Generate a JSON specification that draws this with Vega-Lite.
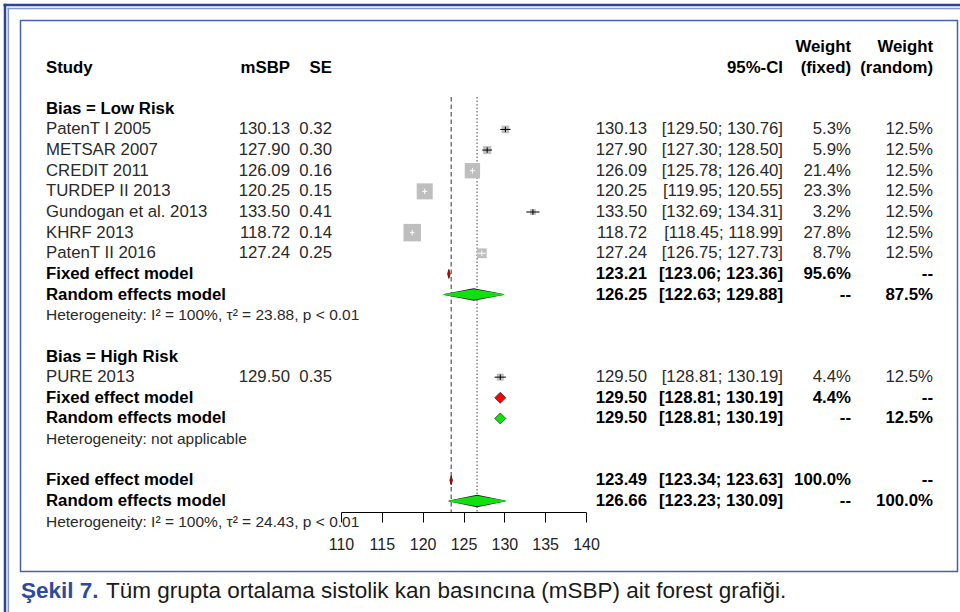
{
  "$schema": "https://vega.github.io/schema/vega-lite/v6.json",
  "width": 960,
  "height": 512,
  "autosize": {"type": "none"},
  "padding": {"left": 0, "top": 0, "right": 0, "bottom": 100},
  "background": "white",
  "config": {"view": {"stroke": null}, "font": "Liberation Sans"},
  "datasets": {
    "rows": [
      {"row": -1, "kind": "header", "wft": "Weight", "wrt": "Weight"},
      {"row": 0, "kind": "header", "label": "Study", "m": "mSBP", "s": "SE", "ci": "95%-CI", "wft": "(fixed)", "wrt": "(random)"},
      {"row": 2, "kind": "subgroup", "label": "Bias = Low Risk"},
      {"row": 3, "kind": "study", "label": "PatenT I 2005", "m": "130.13", "s": "0.32", "e": "130.13", "ci": "[129.50; 130.76]", "wft": "5.3%", "wrt": "12.5%", "est": 130.13, "lo": 129.50, "hi": 130.76, "wf": 5.3},
      {"row": 4, "kind": "study", "label": "METSAR 2007", "m": "127.90", "s": "0.30", "e": "127.90", "ci": "[127.30; 128.50]", "wft": "5.9%", "wrt": "12.5%", "est": 127.90, "lo": 127.30, "hi": 128.50, "wf": 5.9},
      {"row": 5, "kind": "study", "label": "CREDIT 2011", "m": "126.09", "s": "0.16", "e": "126.09", "ci": "[125.78; 126.40]", "wft": "21.4%", "wrt": "12.5%", "est": 126.09, "lo": 125.78, "hi": 126.40, "wf": 21.4},
      {"row": 6, "kind": "study", "label": "TURDEP II 2013", "m": "120.25", "s": "0.15", "e": "120.25", "ci": "[119.95; 120.55]", "wft": "23.3%", "wrt": "12.5%", "est": 120.25, "lo": 119.95, "hi": 120.55, "wf": 23.3},
      {"row": 7, "kind": "study", "label": "Gundogan et al. 2013", "m": "133.50", "s": "0.41", "e": "133.50", "ci": "[132.69; 134.31]", "wft": "3.2%", "wrt": "12.5%", "est": 133.50, "lo": 132.69, "hi": 134.31, "wf": 3.2},
      {"row": 8, "kind": "study", "label": "KHRF 2013", "m": "118.72", "s": "0.14", "e": "118.72", "ci": "[118.45; 118.99]", "wft": "27.8%", "wrt": "12.5%", "est": 118.72, "lo": 118.45, "hi": 118.99, "wf": 27.8},
      {"row": 9, "kind": "study", "label": "PatenT II 2016", "m": "127.24", "s": "0.25", "e": "127.24", "ci": "[126.75; 127.73]", "wft": "8.7%", "wrt": "12.5%", "est": 127.24, "lo": 126.75, "hi": 127.73, "wf": 8.7},
      {"row": 10, "kind": "fixed", "label": "Fixed effect model", "e": "123.21", "ci": "[123.06; 123.36]", "wft": "95.6%", "wrt": "--", "est": 123.21, "lo": 123.06, "hi": 123.36},
      {"row": 11, "kind": "random", "label": "Random effects model", "e": "126.25", "ci": "[122.63; 129.88]", "wft": "--", "wrt": "87.5%", "est": 126.25, "lo": 122.63, "hi": 129.88},
      {"row": 12, "kind": "het", "label": "Heterogeneity: I² = 100%, τ² = 23.88, p < 0.01"},
      {"row": 14, "kind": "subgroup", "label": "Bias = High Risk"},
      {"row": 15, "kind": "study", "label": "PURE 2013", "m": "129.50", "s": "0.35", "e": "129.50", "ci": "[128.81; 130.19]", "wft": "4.4%", "wrt": "12.5%", "est": 129.50, "lo": 128.81, "hi": 130.19, "wf": 4.4},
      {"row": 16, "kind": "fixed", "label": "Fixed effect model", "e": "129.50", "ci": "[128.81; 130.19]", "wft": "4.4%", "wrt": "--", "est": 129.50, "lo": 128.81, "hi": 130.19},
      {"row": 17, "kind": "random", "label": "Random effects model", "e": "129.50", "ci": "[128.81; 130.19]", "wft": "--", "wrt": "12.5%", "est": 129.50, "lo": 128.81, "hi": 130.19},
      {"row": 18, "kind": "het", "label": "Heterogeneity: not applicable"},
      {"row": 20, "kind": "fixed", "label": "Fixed effect model", "e": "123.49", "ci": "[123.34; 123.63]", "wft": "100.0%", "wrt": "--", "est": 123.49, "lo": 123.34, "hi": 123.63},
      {"row": 21, "kind": "random", "label": "Random effects model", "e": "126.66", "ci": "[123.23; 130.09]", "wft": "--", "wrt": "100.0%", "est": 126.66, "lo": 123.23, "hi": 130.09},
      {"row": 22, "kind": "het", "label": "Heterogeneity: I² = 100%, τ² = 24.43, p < 0.01"}
    ]
  },
  "data": {"name": "rows"},
  "encoding": {
    "y": {"field": "row", "type": "quantitative", "scale": {"domain": [0, 21], "range": [67.5, 501], "nice": false, "zero": false}, "axis": null}
  },
  "layer": [
    {
      "data": {"values": [{}]},
      "mark": {"type": "rect", "filled": false, "stroke": "#4a5fab", "strokeWidth": 1.5},
      "encoding": {"x": {"value": 20.5}, "x2": {"value": 957.5}, "y": {"value": 20.5}, "y2": {"value": 571.5}}
    },
    {
      "data": {"values": [{}]},
      "mark": {"type": "rule", "stroke": "#2b4595", "strokeWidth": 2.5},
      "encoding": {"x": {"value": 3.5}, "x2": {"value": 960}, "y": {"value": 5}}
    },
    {
      "data": {"values": [{}]},
      "mark": {"type": "rule", "stroke": "#2b4595", "strokeWidth": 2.5},
      "encoding": {"x": {"value": 5}, "y": {"value": 3.8}, "y2": {"value": 612}}
    },
    {
      "data": {"values": [{}]},
      "mark": {"type": "rule", "stroke": "#8496cf", "strokeWidth": 1.5},
      "encoding": {"x": {"value": 7.5}, "x2": {"value": 960}, "y": {"value": 8.5}}
    },
    {
      "data": {"values": [{}]},
      "mark": {"type": "rule", "stroke": "#8496cf", "strokeWidth": 1.5},
      "encoding": {"x": {"value": 8.3}, "y": {"value": 7.8}, "y2": {"value": 612}}
    },
    {
      "data": {"values": [{}]},
      "mark": {"type": "text", "align": "left", "baseline": "middle", "font": "Liberation Sans", "fontSize": 22.5, "fontWeight": "bold", "color": "#2d4a9c"},
      "encoding": {"x": {"value": 21}, "y": {"value": 591}, "text": {"value": "Şekil 7."}}
    },
    {
      "data": {"values": [{}]},
      "mark": {"type": "text", "align": "left", "baseline": "middle", "font": "Liberation Sans", "fontSize": 22.5, "color": "#1a1a1a"},
      "encoding": {"x": {"value": 106}, "y": {"value": 591}, "text": {"value": "Tüm grupta ortalama sistolik kan basıncına (mSBP) ait forest grafiği."}}
    },
    {
      "transform": [{"filter": "datum.row === 20"}],
      "mark": {"type": "rule", "stroke": "#333", "strokeWidth": 1, "strokeDash": [4.5, 3]},
      "encoding": {"x": {"field": "est", "type": "quantitative"}, "y": {"datum": 1.43, "type": "quantitative"}, "y2": {"datum": 21.55}}
    },
    {
      "transform": [{"filter": "datum.row === 21"}],
      "mark": {"type": "rule", "stroke": "#444", "strokeWidth": 1, "strokeDash": [1.5, 2]},
      "encoding": {"x": {"field": "est", "type": "quantitative"}, "y": {"datum": 1.43, "type": "quantitative"}, "y2": {"datum": 21.55}}
    },
    {
      "transform": [{"filter": "datum.kind === 'study'"}],
      "mark": {"type": "point", "shape": "square", "filled": true, "color": "#bebebe", "opacity": 1, "strokeWidth": 0},
      "encoding": {
        "x": {"field": "est", "type": "quantitative", "scale": {"domain": [110, 140], "range": [341, 586], "nice": false, "zero": false},
          "axis": {"values": [110, 115, 120, 125, 130, 135, 140], "title": null, "tickSize": 10, "tickColor": "#000", "domainColor": "#000", "tickWidth": 1, "domainWidth": 1, "labelFontSize": 16, "labelFont": "Liberation Sans", "labelColor": "#222", "labelPadding": 14, "grid": false, "labelFlush": false, "labelOverlap": false, "format": "d", "orient": "bottom"}},
        "size": {"field": "wf", "type": "quantitative", "scale": {"domain": [0, 100], "range": [0, 1100], "zero": true}, "legend": null}
      }
    },
    {
      "transform": [{"filter": "datum.kind === 'study'"}],
      "mark": {"type": "rule", "strokeWidth": 1},
      "encoding": {
        "x": {"field": "lo", "type": "quantitative"},
        "x2": {"field": "hi"},
        "color": {"condition": {"test": "datum.wf > 8", "value": "white"}, "value": "black"}
      }
    },
    {
      "transform": [{"filter": "datum.kind === 'study'"}],
      "mark": {"type": "point", "shape": "M0,-1V1", "filled": false, "size": 30, "strokeWidth": 1, "opacity": 1},
      "encoding": {
        "x": {"field": "est", "type": "quantitative"},
        "color": {"condition": {"test": "datum.wf > 8", "value": "white"}, "value": "black"}
      }
    },
    {
      "transform": [{"filter": "(datum.kind === 'fixed' || datum.kind === 'random') && datum.hi - datum.lo > 3"}, {"fold": ["lo", "est", "hi"], "as": ["k", "v"]}],
      "mark": {"type": "trail", "color": "#1a1a1a"},
      "encoding": {
        "x": {"field": "v", "type": "quantitative"},
        "detail": {"field": "row", "type": "nominal"},
        "size": {"field": "k", "type": "nominal", "scale": {"type": "ordinal", "domain": ["lo", "est", "hi"], "range": [0, 12.5, 0]}, "legend": null}
      }
    },
    {
      "transform": [{"filter": "(datum.kind === 'fixed' || datum.kind === 'random') && datum.hi - datum.lo > 3"}, {"fold": ["lo", "est", "hi"], "as": ["k", "v"]}],
      "mark": {"type": "trail", "color": "#10e010"},
      "encoding": {
        "x": {"field": "v", "type": "quantitative"},
        "detail": {"field": "row", "type": "nominal"},
        "size": {"field": "k", "type": "nominal", "scale": {"type": "ordinal", "domain": ["lo", "est", "hi"], "range": [0, 10.5, 0]}, "legend": null}
      }
    },
    {
      "transform": [{"filter": "(datum.kind === 'fixed' || datum.kind === 'random') && datum.hi - datum.lo > 1 && datum.hi - datum.lo <= 3"}],
      "mark": {"type": "point", "shape": "diamond", "filled": true, "size": 121, "stroke": "#333", "strokeWidth": 0.8, "opacity": 1},
      "encoding": {
        "x": {"field": "est", "type": "quantitative"},
        "color": {"condition": {"test": "datum.kind === 'fixed'", "value": "#ff0000"}, "value": "#10e010"}
      }
    },
    {
      "transform": [{"filter": "datum.kind === 'fixed' && datum.hi - datum.lo <= 1"}],
      "mark": {"type": "point", "shape": "M-0.28,0L0,-1L0.28,0L0,1Z", "filled": true, "size": 81, "color": "#e00000", "stroke": "#500", "strokeWidth": 0.8, "opacity": 1},
      "encoding": {"x": {"field": "est", "type": "quantitative"}}
    },
    {
      "transform": [{"filter": "datum.label != null"}],
      "mark": {"type": "text", "align": "left", "baseline": "middle", "font": "Liberation Sans",
        "fontSize": {"expr": "datum.kind === 'het' ? 15.5 : 16.8"},
        "fontWeight": {"expr": "datum.kind === 'study' || datum.kind === 'het' ? 'normal' : 'bold'"}},
      "encoding": {"x": {"value": 46}, "text": {"field": "label"},
        "color": {"condition": {"test": "datum.kind === 'study' || datum.kind === 'het'", "value": "#2a2a2a"}, "value": "#000"}}
    },
    {
      "transform": [{"filter": "datum.m != null"}],
      "mark": {"type": "text", "align": "right", "baseline": "middle", "font": "Liberation Sans", "fontSize": 16.8,
        "fontWeight": {"expr": "datum.kind === 'study' ? 'normal' : 'bold'"}},
      "encoding": {"x": {"value": 290}, "text": {"field": "m"},
        "color": {"condition": {"test": "datum.kind === 'study'", "value": "#2a2a2a"}, "value": "#000"}}
    },
    {
      "transform": [{"filter": "datum.s != null"}],
      "mark": {"type": "text", "align": "right", "baseline": "middle", "font": "Liberation Sans", "fontSize": 16.8,
        "fontWeight": {"expr": "datum.kind === 'study' ? 'normal' : 'bold'"}},
      "encoding": {"x": {"value": 332}, "text": {"field": "s"},
        "color": {"condition": {"test": "datum.kind === 'study'", "value": "#2a2a2a"}, "value": "#000"}}
    },
    {
      "transform": [{"filter": "datum.e != null"}],
      "mark": {"type": "text", "align": "right", "baseline": "middle", "font": "Liberation Sans", "fontSize": 16.8,
        "fontWeight": {"expr": "datum.kind === 'study' ? 'normal' : 'bold'"}},
      "encoding": {"x": {"value": 647}, "text": {"field": "e"},
        "color": {"condition": {"test": "datum.kind === 'study'", "value": "#2a2a2a"}, "value": "#000"}}
    },
    {
      "transform": [{"filter": "datum.ci != null"}],
      "mark": {"type": "text", "align": "right", "baseline": "middle", "font": "Liberation Sans", "fontSize": 16.8,
        "fontWeight": {"expr": "datum.kind === 'study' ? 'normal' : 'bold'"}},
      "encoding": {"x": {"value": 783}, "text": {"field": "ci"},
        "color": {"condition": {"test": "datum.kind === 'study'", "value": "#2a2a2a"}, "value": "#000"}}
    },
    {
      "transform": [{"filter": "datum.wft != null"}],
      "mark": {"type": "text", "align": "right", "baseline": "middle", "font": "Liberation Sans", "fontSize": 16.8,
        "fontWeight": {"expr": "datum.kind === 'study' ? 'normal' : 'bold'"}},
      "encoding": {"x": {"value": 851}, "text": {"field": "wft"},
        "color": {"condition": {"test": "datum.kind === 'study'", "value": "#2a2a2a"}, "value": "#000"}}
    },
    {
      "transform": [{"filter": "datum.wrt != null"}],
      "mark": {"type": "text", "align": "right", "baseline": "middle", "font": "Liberation Sans", "fontSize": 16.8,
        "fontWeight": {"expr": "datum.kind === 'study' ? 'normal' : 'bold'"}},
      "encoding": {"x": {"value": 933}, "text": {"field": "wrt"},
        "color": {"condition": {"test": "datum.kind === 'study'", "value": "#2a2a2a"}, "value": "#000"}}
    }
  ],
  "resolve": {"scale": {"size": "independent"}}
}
